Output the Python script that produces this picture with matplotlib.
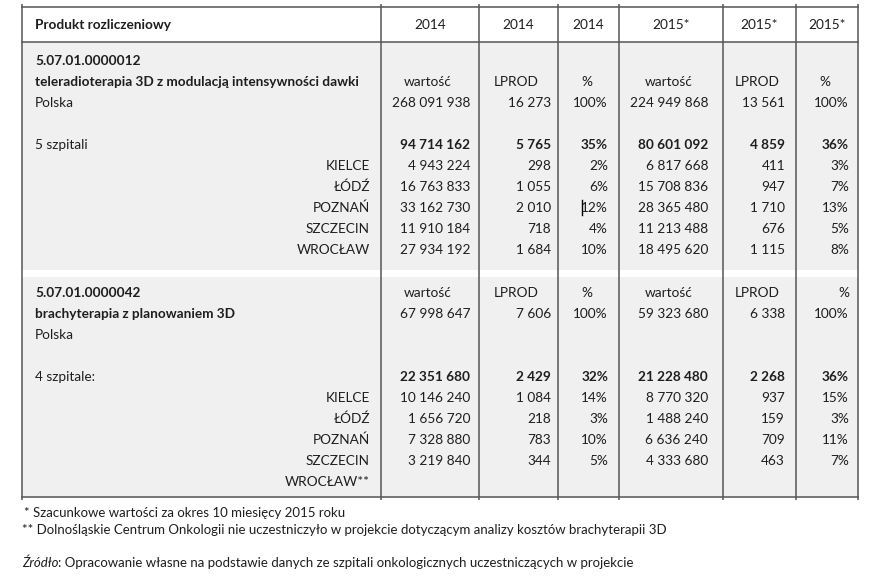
import matplotlib
matplotlib.use("Agg")
import matplotlib.pyplot as plt

# --- data ---
header = ["Produkt rozliczeniowy", "2014", "2014", "2014", "2015*", "2015*", "2015*"]
sub_header = ["wartość", "LPROD", "%", "wartość", "LPROD", "%"]
cities = ["KIELCE", "ŁÓDŹ", "POZNAŃ", "SZCZECIN", "WROCŁAW"]

code_1 = "5.07.01.0000012"
name_1 = "teleradioterapia 3D z modulacją intensywności dawki"
poland_1 = ["268 091 938", "16 273", "100%", "224 949 868", "13 561", "100%"]
total_label_1 = "5 szpitali"
total_1 = ["94 714 162", "5 765", "35%", "80 601 092", "4 859", "36%"]
city_rows_1 = [
    ["4 943 224", "298", "2%", "6 817 668", "411", "3%"],
    ["16 763 833", "1 055", "6%", "15 708 836", "947", "7%"],
    ["33 162 730", "2 010", "12%", "28 365 480", "1 710", "13%"],
    ["11 910 184", "718", "4%", "11 213 488", "676", "5%"],
    ["27 934 192", "1 684", "10%", "18 495 620", "1 115", "8%"],
]

code_2 = "5.07.01.0000042"
name_2 = "brachyterapia z planowaniem 3D"
poland_2 = ["67 998 647", "7 606", "100%", "59 323 680", "6 338", "100%"]
total_label_2 = "4 szpitale:"
total_2 = ["22 351 680", "2 429", "32%", "21 228 480", "2 268", "36%"]
city_rows_2 = [
    ["10 146 240", "1 084", "14%", "8 770 320", "937", "15%"],
    ["1 656 720", "218", "3%", "1 488 240", "159", "3%"],
    ["7 328 880", "783", "10%", "6 636 240", "709", "11%"],
    ["3 219 840", "344", "5%", "4 333 680", "463", "7%"],
    None,
]
city_suffix_2 = ["", "", "", "", "**"]

notes = [
    "* Szacunkowe wartości za okres 10 miesięcy 2015 roku",
    "** Dolnośląskie Centrum Onkologii nie uczestniczyło w projekcie dotyczącym analizy kosztów brachyterapii 3D",
]
source_label = "Źródło"
source_text = ": Opracowanie własne na podstawie danych ze szpitali onkologicznych uczestniczących w projekcie"

# --- layout (pixel coords) ---
W, H = 888, 585
col_edges = [22, 381, 479, 558, 619, 723, 796, 858]
num_right = [470, 551, 608, 708, 785, 849]
label_x = 35
city_x = 370
pitch = 21
fs = 9.8
ink = "#1e1e1e"
line_c = "#555555"
gray = "#f0f0f0"

plt.rcParams["font.family"] = ["Lato", "DejaVu Sans"]

fig = plt.figure(figsize=(W / 100, H / 100), dpi=100)
ax = fig.add_axes([0, 0, 1, 1])
ax.set_xlim(0, W)
ax.set_ylim(H, 0)
ax.axis("off")

# gray blocks
ax.fill_between([col_edges[0], col_edges[-1]], 42, 270, color=gray, lw=0)
ax.fill_between([col_edges[0], col_edges[-1]], 277, 497, color=gray, lw=0)

# grid lines
for x in col_edges:
    ax.plot([x, x], [4, 500], color=line_c, lw=1.1, solid_capstyle="butt")
for y in [7, 42, 497]:
    ax.plot([col_edges[0], col_edges[-1]], [y, y], color=line_c, lw=1.1)

# header
ax.text(label_x, 25, header[0], fontsize=fs, fontweight="bold", color=ink, va="center", ha="left")
for i, h in enumerate(header[1:]):
    cx = (col_edges[i + 1] + col_edges[i + 2]) / 2
    ax.text(cx, 25, h, fontsize=fs, color=ink, va="center", ha="center")


def txt(x, y, s, ha="left", bold=False):
    ax.text(x, y, s, fontsize=fs, color=ink, va="center", ha=ha,
            fontweight="bold" if bold else "normal")


def values(y, vals, bold=False):
    for j, v in enumerate(vals):
        txt(num_right[j], y, v, ha="right", bold=bold)


def subheads(y, last_right=False):
    for j, s in enumerate(sub_header):
        cx = (col_edges[j + 1] + col_edges[j + 2]) / 2 - 2
        if last_right and j == len(sub_header) - 1:
            txt(num_right[j], y, s, ha="right")
        else:
            txt(cx, y, s, ha="center")


# block 1
y0 = 61
txt(label_x, y0, code_1, bold=True)
txt(label_x, y0 + pitch, name_1, bold=True)
subheads(y0 + pitch)
txt(label_x, y0 + 2 * pitch, "Polska")
values(y0 + 2 * pitch, poland_1)
txt(label_x, y0 + 4 * pitch, total_label_1)
values(y0 + 4 * pitch, total_1, bold=True)
for k, (c, row) in enumerate(zip(cities, city_rows_1)):
    yy = y0 + (5 + k) * pitch
    txt(city_x, yy, c, ha="right")
    values(yy, row)

# text cursor mark left in the source image
ax.plot([582, 582], [200, 215], color="#000000", lw=1.0)

# block 2
y0 = 293
txt(label_x, y0, code_2, bold=True)
subheads(y0, last_right=True)
txt(label_x, y0 + pitch, name_2, bold=True)
values(y0 + pitch, poland_2)
txt(label_x, y0 + 2 * pitch, "Polska")
txt(label_x, y0 + 4 * pitch, total_label_2)
values(y0 + 4 * pitch, total_2, bold=True)
for k, (c, row) in enumerate(zip(cities, city_rows_2)):
    yy = y0 + (5 + k) * pitch
    txt(city_x, yy, c + city_suffix_2[k], ha="right")
    if row is not None:
        values(yy, row)

# footnotes
fn = 9.55
ax.text(24, 513, notes[0], fontsize=fn, color=ink, va="center", ha="left")
ax.text(22, 530, notes[1], fontsize=fn, color=ink, va="center", ha="left")
t = ax.text(22, 563, source_label, fontsize=fn, color=ink, va="center", ha="left", style="italic")
fig.canvas.draw()
bb = t.get_window_extent().transformed(ax.transData.inverted())
ax.text(bb.x1, 563, source_text, fontsize=fn, color=ink, va="center", ha="left")

fig.savefig("out.png", dpi=100)
